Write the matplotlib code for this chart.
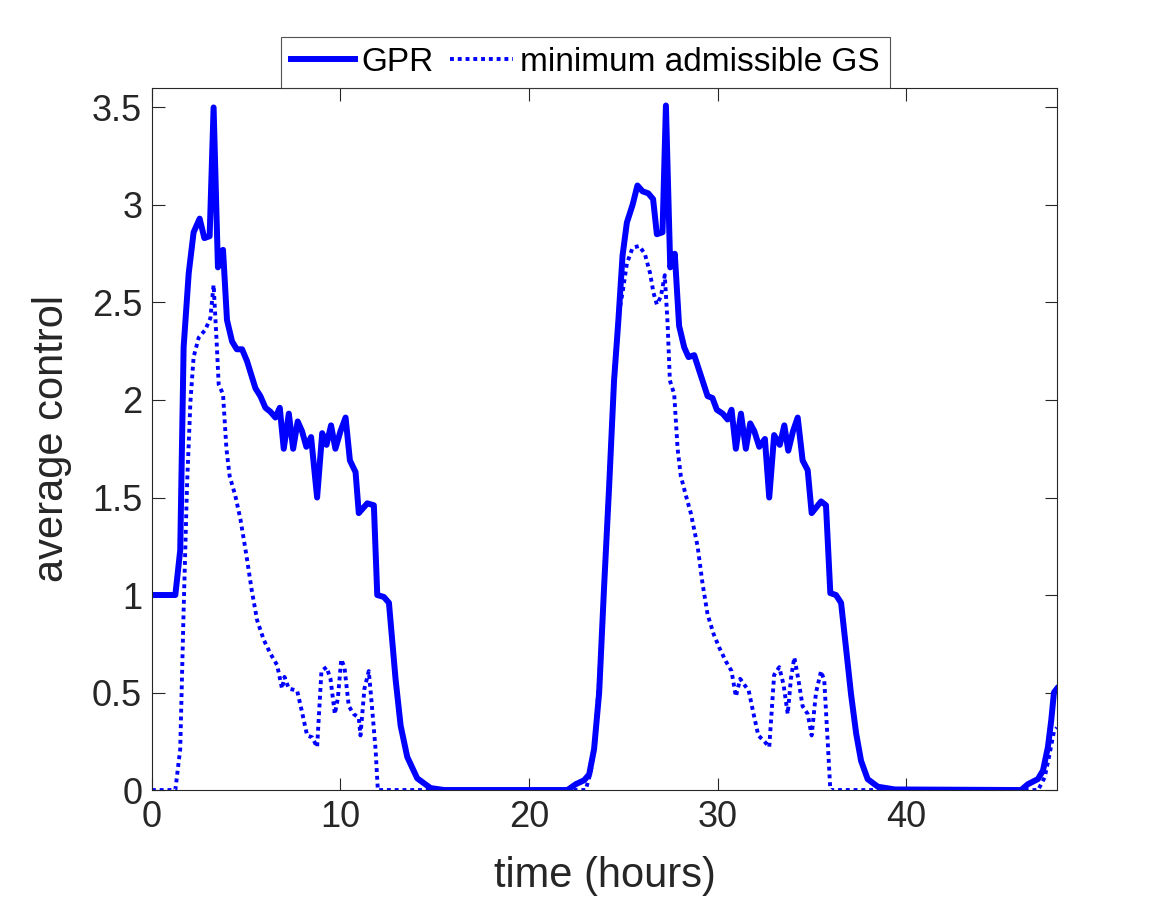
import matplotlib.pyplot as plt
import numpy as np

plt.rcParams['font.family'] = ['Liberation Sans', 'DejaVu Sans']

# GPR control (hours, value)
gpr_t = [0, 1.24, 1.5, 1.68, 1.95, 2.21, 2.53, 2.78, 3.06, 3.27, 3.5, 3.77, 3.98,
         4.25, 4.5, 4.78, 5.04, 5.49, 5.75, 6.02, 6.28, 6.55, 6.78, 6.99, 7.26, 7.49,
         7.73, 7.96, 8.19, 8.44, 8.76, 9.03, 9.26, 9.5, 9.73, 10.0, 10.27, 10.5, 10.8,
         10.97, 11.42, 11.77, 11.95, 12.3, 12.57, 12.92, 13.19, 13.54, 14.07, 14.78, 15.5,
         22.04, 22.48, 22.92, 23.19, 23.45, 23.72, 23.98, 24.25, 24.51, 24.74, 24.96,
         25.19, 25.49, 25.75, 26.02, 26.32, 26.58, 26.78, 27.08, 27.26, 27.49, 27.73,
         27.96, 28.23, 28.46, 28.76, 29.03, 29.47, 29.73, 29.96, 30.27, 30.53, 30.74,
         30.97, 31.24, 31.5, 31.73, 31.95, 32.21, 32.51, 32.74, 33.0, 33.3, 33.54, 33.75,
         34.0, 34.25, 34.51, 34.78, 34.99, 35.49, 35.75, 35.98, 36.28, 36.55, 36.81,
         37.08, 37.35, 37.61, 37.96, 38.5, 39.4, 46.1, 46.46, 46.99, 47.26, 47.52, 47.7,
         47.84, 48.0]
gpr_v = [1.0, 1.0, 1.23, 2.27, 2.65, 2.86, 2.93, 2.83, 2.84, 3.5, 2.68, 2.77, 2.41,
         2.30, 2.26, 2.26, 2.20, 2.06, 2.02, 1.96, 1.94, 1.91, 1.96, 1.75, 1.93, 1.75,
         1.89, 1.84, 1.76, 1.81, 1.50, 1.83, 1.77, 1.87, 1.75, 1.84, 1.91, 1.69, 1.63,
         1.42, 1.47, 1.46, 1.0, 0.99, 0.96, 0.57, 0.33, 0.17, 0.06, 0.01, 0.0,
         0.0, 0.03, 0.05, 0.08, 0.21, 0.50, 1.04, 1.56, 2.10, 2.41, 2.74,
         2.91, 3.0, 3.10, 3.07, 3.06, 3.03, 2.85, 2.86, 3.51, 2.68, 2.75,
         2.38, 2.27, 2.22, 2.23, 2.15, 2.02, 2.01, 1.95, 1.93, 1.90, 1.95,
         1.75, 1.93, 1.75, 1.88, 1.84, 1.76, 1.80, 1.50, 1.82, 1.77, 1.87, 1.74,
         1.84, 1.91, 1.69, 1.64, 1.42, 1.48, 1.46, 1.01, 1.0, 0.96, 0.73,
         0.49, 0.29, 0.15, 0.056, 0.017, 0.003, 0.0, 0.03, 0.056, 0.10, 0.22, 0.36,
         0.50, 0.52]

# minimum admissible GS control (hours, value)
gs_t = [0, 1.24, 1.5, 1.68, 1.86, 2.04, 2.21, 2.48, 2.83, 3.1, 3.27, 3.42, 3.54, 3.77,
        3.95, 4.12, 4.42, 4.69, 5.0, 5.3, 5.58, 5.93, 6.28, 6.64, 6.9, 7.03, 7.26, 7.7,
        7.96, 8.23, 8.5, 8.76, 8.99, 9.26, 9.47, 9.7, 9.86, 10.04, 10.21, 10.44, 10.7,
        10.97, 11.06, 11.27, 11.5, 11.65, 11.86, 11.98,
        23.0, 23.27, 23.49, 23.72, 23.98, 24.25, 24.51, 24.74, 24.96, 25.19, 25.49,
        25.84, 26.14, 26.42, 26.6, 26.78, 26.99, 27.2, 27.35, 27.47, 27.7, 27.88, 28.05,
        28.32, 28.58, 28.94, 29.2, 29.47, 29.79, 30.09, 30.44, 30.74, 30.97, 31.2, 31.42,
        31.65, 31.91, 32.16, 32.48, 32.74, 33.0, 33.27, 33.5, 33.72, 33.89, 34.07, 34.28,
        34.51, 34.78, 34.99, 35.22, 35.49, 35.66, 35.84, 35.98,
        47.0, 47.35, 47.6, 47.84, 48.0]
gs_v = [0.0, 0.0, 0.21, 0.92, 1.56, 1.99, 2.22, 2.32, 2.36, 2.42, 2.59, 2.32, 2.08, 2.03,
        1.75, 1.61, 1.51, 1.39, 1.21, 1.02, 0.87, 0.77, 0.70, 0.64, 0.52, 0.58, 0.52, 0.51,
        0.40, 0.28, 0.27, 0.22, 0.61, 0.63, 0.57, 0.39, 0.47, 0.67, 0.63, 0.43, 0.39,
        0.37, 0.28, 0.52, 0.61, 0.45, 0.21, 0.0,
        0.0, 0.09, 0.24, 0.57, 1.04, 1.61, 2.13, 2.43, 2.55, 2.70, 2.78,
        2.79, 2.75, 2.65, 2.55, 2.49, 2.53, 2.64, 2.39, 2.10, 2.03, 1.75, 1.61,
        1.51, 1.42, 1.25, 1.06, 0.90, 0.80, 0.73, 0.66, 0.61, 0.48, 0.57, 0.54,
        0.51, 0.39, 0.28, 0.25, 0.22, 0.59, 0.63, 0.54, 0.39, 0.57, 0.68, 0.57,
        0.43, 0.39, 0.28, 0.50, 0.61, 0.56, 0.25, 0.0,
        0.0, 0.065, 0.18, 0.30, 0.32]

x_ticks = [0, 10, 20, 30, 40]
y_ticks = [0, 0.5, 1, 1.5, 2, 2.5, 3, 3.5]
y_ticklabels = ['0', '0.5', '1', '1.5', '2', '2.5', '3', '3.5']

fig = plt.figure(figsize=(11.67, 9.21), dpi=100)
ax = fig.add_axes([0.1302, 0.1422, 0.7755, 0.7623])

ax.plot(gpr_t, gpr_v, color='#0000ff', lw=4.3, label='GPR')
ax.plot(gs_t, gs_v, color='#0000ff', lw=2.8, linestyle=(0, (1.0, 1.0)),
        dash_capstyle='butt', label='minimum admissible GS')

ax.set_xlim(0, 48)
ax.set_ylim(0, 3.6)
ax.set_xticks(x_ticks)
ax.set_yticks(y_ticks)
ax.set_yticklabels(y_ticklabels)

gray = '#262626'
for s in ax.spines.values():
    s.set_color(gray)
    s.set_linewidth(0.8)
ax.tick_params(direction='in', length=9, width=0.8, color=gray, labelcolor=gray,
               labelsize=26, top=True, right=True, pad=7)

ax.set_xlabel('time (hours)', fontsize=30, color=gray, labelpad=15)
ax.set_ylabel('average control', fontsize=30, color=gray, labelpad=14)

leg = ax.legend(loc='lower center', bbox_to_anchor=(0.479, 1.0), ncol=2, fontsize=24,
                frameon=True, fancybox=False, borderaxespad=0, handlelength=1.9,
                handletextpad=0.2, columnspacing=0.5, borderpad=0.3)
leg.get_frame().set_edgecolor(gray)
leg.get_frame().set_linewidth(0.8)

fig.savefig('out.png', dpi=100, facecolor='white')
